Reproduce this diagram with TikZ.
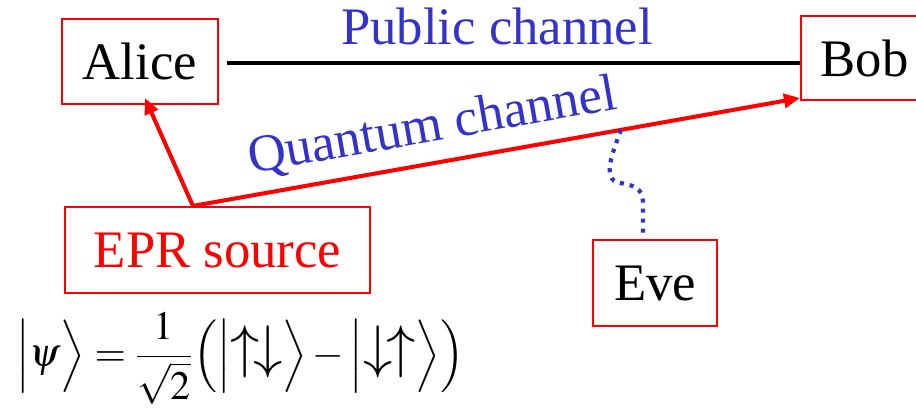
\documentclass[tikz,border=0pt]{standalone}
\usepackage{mathptmx}
\usepackage{graphicx}
\usepackage{fontspec}
\setmainfont{Liberation Serif}
\usetikzlibrary{arrows.meta,calc}
\definecolor{chblue}{RGB}{51,51,204}
\definecolor{boxred}{RGB}{255,0,0}
\newcommand{\spinud}{\mbox{\scalebox{1.45}{$\uparrow\!\downarrow$}}}
\newcommand{\spindu}{\mbox{\scalebox{1.45}{$\downarrow\!\uparrow$}}}
\begin{document}
\begin{tikzpicture}[x=0.02cm,y=-0.02cm,
  every node/.style={font=\fontsize{30}{36}\selectfont},
  box/.style={draw=boxred,line width=1.2pt,inner sep=0pt},
  qarrow/.style={draw=boxred,line width=2.3pt,-{Triangle[length=0.32cm,width=0.28cm]}},
  publine/.style={draw=black,line width=1.9pt},
  evedots/.style={draw=chblue,line width=2.4pt,dash pattern=on 2.3pt off 3.4pt},
  chlabel/.style={text=chblue}]
\useasboundingbox (0,0) rectangle (916,412);
% boxes
\node[box,minimum width=3.12cm,minimum height=1.70cm] (alice) at (140,61.5) {Alice};
\node[box,minimum width=2.54cm,minimum height=1.68cm] (bob) at (864.5,58) {Bob};
\node[box,minimum width=6.10cm,minimum height=1.72cm,text=boxred] (epr) at (217.5,250) {EPR source\hspace{0.34cm}};
\node[box,minimum width=2.48cm,minimum height=1.72cm] (eve) at (655,283) {Eve};
% public channel
\coordinate (pubA) at ($(alice.east)+(8,1.5)$);
\draw[publine] (pubA) -- (pubA -| bob.west);
\node[chlabel,anchor=base] (pubtxt) at (497,45) {Public channel};
% quantum channel
\coordinate (src) at ($(epr.north west)!0.42!(epr.north east)$);
\coordinate (aliceEnd) at ($(alice.south)+(5,-7)$);
\coordinate (bobEnd) at ($(bob.south west)+(0,-3)$);
\draw[qarrow] (src) -- (aliceEnd);
\draw[qarrow] (src) -- (bobEnd);
\node[chlabel,anchor=base,rotate=10] (qtxt) at (435,141) {Quantum channel};
% Eve tap
\coordinate (tap) at ($(src)!0.705!(bobEnd)$);
\coordinate (eveTop) at ($(eve.north)+(-12,-2)$);
\draw[evedots] (tap) .. controls (614,150) and (600,180) .. (620,183)
  .. controls (640,186) and (643,192) .. (643,205) -- (eveTop);
% equation
\node[anchor=west,inner sep=0pt,font=\fontsize{23}{28}\selectfont] (eq) at (16,358)
  {$\displaystyle\Bigl|\psi\Bigr\rangle=\frac{1}{\sqrt{2}}\Bigl(\Bigl|\spinud\Bigr\rangle-\Bigl|\spindu\Bigr\rangle\Bigr)$};
\end{tikzpicture}
\end{document}
